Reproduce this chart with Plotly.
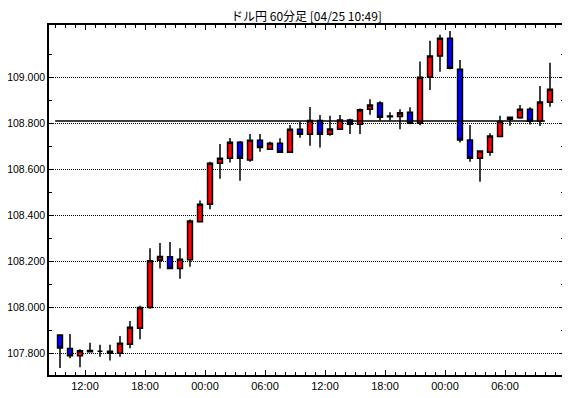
import pandas as pd
import plotly.graph_objects as go

# ---- data (USD/JPY, 60-minute candles, JST) ----
first_bar = "2018-04-23 09:00"
opens = [107.880, 107.822, 107.790, 107.808, 107.810, 107.810, 107.801, 107.840, 107.910, 108.000,
         108.205, 108.221, 108.170, 108.208, 108.373, 108.449, 108.627, 108.649, 108.718, 108.641,
         108.727, 108.688, 108.714, 108.675, 108.775, 108.753, 108.813, 108.753, 108.775, 108.815,
         108.797, 108.862, 108.889, 108.829, 108.830, 108.849, 108.801, 109.001, 109.093, 109.170,
         109.036, 108.728, 108.649, 108.675, 108.743, 108.818, 108.825, 108.862, 108.810, 108.892]
highs = [107.884, 107.885, 107.818, 107.847, 107.838, 107.838, 107.876, 107.941, 108.008, 108.257,
         108.280, 108.285, 108.257, 108.383, 108.465, 108.634, 108.711, 108.737, 108.724, 108.754,
         108.754, 108.720, 108.736, 108.793, 108.807, 108.872, 108.837, 108.834, 108.837, 108.820,
         108.865, 108.905, 108.897, 108.849, 108.862, 108.870, 109.069, 109.160, 109.186, 109.202,
         109.076, 108.793, 108.682, 108.757, 108.833, 108.830, 108.880, 108.870, 108.963, 109.064]
lows = [107.737, 107.779, 107.740, 107.806, 107.786, 107.769, 107.786, 107.823, 107.862, 107.995,
        108.169, 108.167, 108.125, 108.177, 108.369, 108.427, 108.560, 108.630, 108.551, 108.634,
        108.677, 108.686, 108.673, 108.673, 108.738, 108.703, 108.695, 108.747, 108.772, 108.754,
        108.754, 108.838, 108.813, 108.813, 108.775, 108.797, 108.792, 108.945, 109.025, 109.036,
        108.717, 108.634, 108.547, 108.660, 108.741, 108.790, 108.820, 108.795, 108.789, 108.873]
closes = [107.824, 107.790, 107.812, 107.813, 107.810, 107.801, 107.844, 107.914, 108.000, 108.203,
          108.222, 108.170, 108.210, 108.376, 108.449, 108.627, 108.649, 108.718, 108.649, 108.727,
          108.695, 108.714, 108.675, 108.775, 108.753, 108.813, 108.753, 108.776, 108.815, 108.797,
          108.860, 108.880, 108.827, 108.832, 108.847, 108.801, 109.001, 109.093, 109.170, 109.040,
          108.728, 108.649, 108.680, 108.746, 108.808, 108.827, 108.862, 108.810, 108.893, 108.949]
ref_price = 108.811
price_ticks = [107.8, 108.0, 108.2, 108.4, 108.6, 108.8, 109.0]
price_minor_ticks = [107.7, 107.9, 108.1, 108.3, 108.5, 108.7, 108.9, 109.1]
title_text = "ドル円 60分足 [04/25 10:49]"

# candles drawn at the middle of their hour
bar_times = pd.date_range(first_bar, periods=len(opens), freq="h") + pd.Timedelta(minutes=30)

fig = go.Figure()
fig.add_trace(go.Candlestick(
    x=bar_times, open=opens, high=highs, low=lows, close=closes,
    increasing=dict(fillcolor="#ff0000", line=dict(color="#000000", width=1.5)),
    decreasing=dict(fillcolor="#0000ff", line=dict(color="#000000", width=1.5)),
    whiskerwidth=0, showlegend=False, hoverinfo="skip",
))

fig.add_shape(type="line", xref="paper", yref="y", x0=0.012, x1=0.963,
              y0=ref_price, y1=ref_price, line=dict(color="#000000", width=1.5))

# the page body adds an 8px offset, so the figure is 8px smaller in each direction
fig.update_layout(
    width=562, height=390,
    margin=dict(l=41, r=6, t=17, b=23, autoexpand=False),
    paper_bgcolor="#ffffff", plot_bgcolor="#ffffff",
    font=dict(family="Liberation Sans", size=11, color="#000000"),
    title=dict(text=title_text, x=0.5, xref="paper", xanchor="center",
               y=1 - 8.5 / 390, yref="container", yanchor="middle",
               font=dict(family="Noto Sans CJK JP", size=12, color="#000000"),
               automargin=False),
    showlegend=False,
)

fig.update_xaxes(
    type="date", range=["2018-04-23 08:24", "2018-04-25 11:54"],
    rangeslider=dict(visible=False),
    tick0="2018-04-23 00:00", dtick=6 * 3600 * 1000, tickformat="%H:%M",
    ticks="inside", ticklen=5, tickwidth=1, tickcolor="#000000",
    minor=dict(dtick=3600 * 1000, ticks="inside", ticklen=3, tickcolor="#000000", showgrid=False),
    showgrid=False, zeroline=False, automargin=False,
    showline=True, linecolor="#000000", linewidth=1.5, mirror="ticks",
    tickfont=dict(family="Liberation Sans", size=11),
)

fig.update_yaxes(
    range=[107.7065, 109.228],
    tickmode="array", tickvals=price_ticks, tickformat=".3f",
    ticks="inside", ticklen=4, tickwidth=1, tickcolor="#000000",
    minor=dict(tickmode="array", tickvals=price_minor_ticks, ticks="inside", ticklen=3,
               tickcolor="#000000", showgrid=False),
    showgrid=True, gridcolor="#000000", gridwidth=1, griddash="1px,1px",
    zeroline=False, automargin=False,
    showline=True, linecolor="#000000", linewidth=1.5, mirror="ticks",
    tickfont=dict(family="Liberation Sans", size=10.5),
)

fig.write_html("out.html")
